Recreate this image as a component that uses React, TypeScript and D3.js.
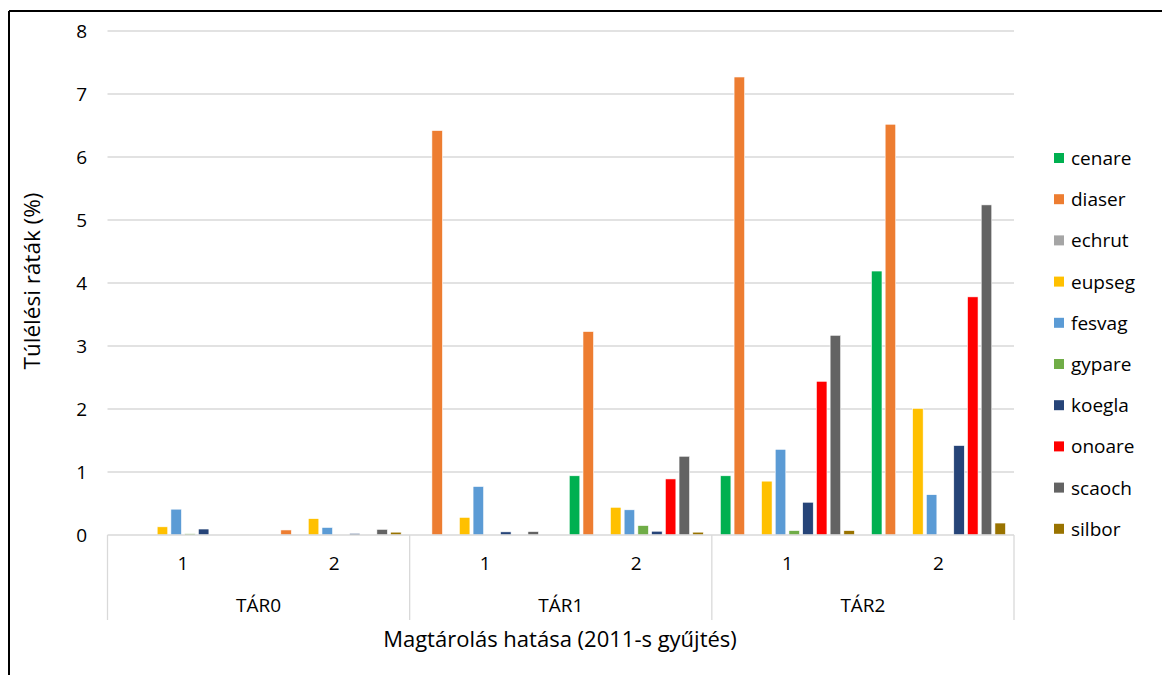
import React from "react";
import * as d3 from "d3";

const groups = ["TÁR0", "TÁR1", "TÁR2"];
const subs = ["1", "2"];
const series = ["cenare", "diaser", "echrut", "eupseg", "fesvag", "gypare", "koegla", "onoare", "scaoch", "silbor"];
const colors = ["#00B050", "#ED7D31", "#A5A5A5", "#FFC000", "#5B9BD5", "#70AD47", "#264478", "#FF0000", "#636363", "#997300"];
// values per category (TÁR0-1, TÁR0-2, TÁR1-1, TÁR1-2, TÁR2-1, TÁR2-2) per series
const cenare = [0, 0, 0, 0.94, 0.94, 4.19];
const diaser = [0, 0.08, 6.42, 3.23, 7.27, 6.52];
const echrut = [0, 0, 0, 0, 0, 0];
const eupseg = [0.13, 0.26, 0.28, 0.44, 0.855, 2.01];
const fesvag = [0.41, 0.12, 0.77, 0.4, 1.36, 0.64];
const gypare = [0.02, 0, 0, 0.15, 0.07, 0];
const koegla = [0.095, 0.025, 0.05, 0.06, 0.52, 1.42];
const onoare = [0, 0, 0, 0.89, 2.44, 3.78];
const scaoch = [0, 0.09, 0.055, 1.25, 3.17, 5.24];
const silbor = [0.005, 0.045, 0, 0.045, 0.07, 0.19];
const values = [cenare, diaser, echrut, eupseg, fesvag, gypare, koegla, onoare, scaoch, silbor];
const yTicks = [0, 1, 2, 3, 4, 5, 6, 7, 8];

const font = "'Open Sans', sans-serif";

export default function App() {
  const W = 1162, H = 675;
  const left = 107.5, right = 1014, top = 31, bottom = 535;
  const cats = groups.flatMap((g) => subs.map((s) => g + "|" + s));
  const x0 = d3.scaleBand<string>().domain(cats).range([left, right]).paddingInner(0).paddingOuter(0);
  const x1 = d3.scaleBand<string>().domain(series).range([0, x0.bandwidth()]).paddingInner(0.23).paddingOuter(0.62);
  const y = d3.scaleLinear().domain([0, 8]).range([bottom, top]);
  const gw = (right - left) / groups.length;
  return (
    <svg width={W} height={H} style={{ position: "absolute", left: 0, top: 0, background: "#fff" }}>
      <rect x={0} y={0} width={W} height={H} fill="#fff" />
      <line x1={9} y1={11} x2={W} y2={11} stroke="#000" strokeWidth={2} />
      <line x1={9} y1={11} x2={9} y2={H} stroke="#000" strokeWidth={2} />
      {yTicks.map((t) => (
        <g key={t}>
          {t > 0 && <line x1={left} x2={right} y1={y(t)} y2={y(t)} stroke="#D9D9D9" strokeWidth={1.3} />}
          <text x={87} y={y(t) + 7} textAnchor="end" fontFamily={font} fontSize={19} fill="#000">{t}</text>
        </g>
      ))}
      {cats.map((c, ci) =>
        series.map((s, si) => {
          const v = values[si][ci];
          if (!v) return null;
          return (
            <rect key={c + s} x={(x0(c) ?? 0) + (x1(s) ?? 0)} y={y(v)} width={x1.bandwidth()} height={y(0) - y(v)}
              fill={colors[si]} stroke="#fff" strokeWidth={0.6} />
          );
        })
      )}
      <line x1={left} x2={right} y1={bottom} y2={bottom} stroke="#D9D9D9" strokeWidth={1.3} />
      {d3.range(groups.length + 1).map((i) => (
        <line key={i} x1={left + i * gw} x2={left + i * gw} y1={bottom} y2={620} stroke="#D9D9D9" strokeWidth={1.3} />
      ))}
      {cats.map((c) => (
        <text key={c} x={(x0(c) ?? 0) + x0.bandwidth() / 2} y={570} textAnchor="middle" fontFamily={font} fontSize={19} fill="#000">
          {c.split("|")[1]}
        </text>
      ))}
      {groups.map((g, i) => (
        <text key={g} x={left + (i + 0.5) * gw} y={612} textAnchor="middle" fontFamily={font} fontSize={19} fill="#000">{g}</text>
      ))}
      <text x={560} y={647} textAnchor="middle" fontFamily={font} fontSize={22} fill="#000">Magtárolás hatása (2011-s gyűjtés)</text>
      <text transform={`translate(40,${281}) rotate(-90)`} textAnchor="middle" fontFamily={font} fontSize={22.5} fill="#000">Túlélési ráták (%)</text>
      {series.map((s, i) => (
        <g key={s} transform={`translate(1054,${158 + i * 41.2})`}>
          <rect x={0} y={-5} width={10} height={10} fill={colors[i]} />
          <text x={17} y={7} fontFamily={font} fontSize={19} fill="#000">{s}</text>
        </g>
      ))}
    </svg>
  );
}
